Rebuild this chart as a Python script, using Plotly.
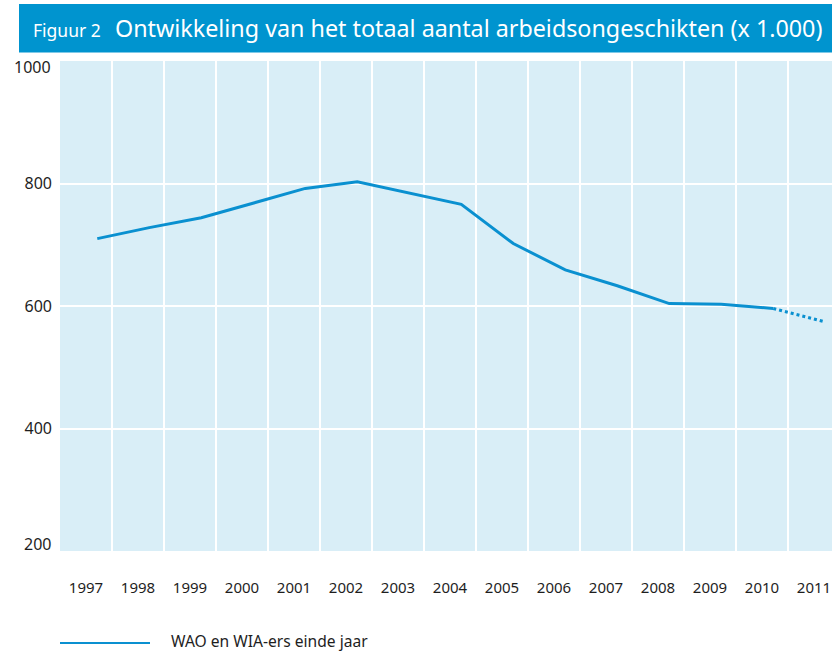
import plotly.graph_objects as go

# ---- data ----
years = [1997, 1998, 1999, 2000, 2001, 2002, 2003, 2004, 2005, 2006, 2007, 2008, 2009, 2010, 2011]
values = [710, 728, 744, 768, 792, 803, 785, 766, 702, 659, 633, 604, 603, 596, 574]
year_labels = [str(y) for y in years]
y_ticks = [200, 400, 600, 800, 1000]
series_name = "WAO en WIA-ers einde jaar"
title_prefix = "Figuur 2"
title_main = "Ontwikkeling van het totaal aantal arbeidsongeschikten (x 1.000)"

# ---- style / layout constants ----
W, H = 832, 652
L, R, T, B = 60, 0, 61, 101
PW, PH = W - L - R, H - T - B
LINE = "#0a90d0"
BAR = "#0094cf"
BG = "#d9eef7"
TXT = "#1e1e1e"
FONT = "Noto Sans"
POINT_OFFSET = 0.217   # data points sit to the right of column centres
X0, X1 = years[0] - 0.717, years[0] - 0.717 + PW / 52.0


def px(xp):
    return (xp - L) / PW


def py(yp):
    return (T + PH - yp) / PH


fig = go.Figure()
n_solid = len(years) - 1
fig.add_trace(go.Scatter(x=years[:n_solid], y=values[:n_solid], mode="lines",
                         line=dict(color=LINE, width=3), showlegend=False,
                         hoverinfo="skip"))
fig.add_trace(go.Scatter(x=years[n_solid - 1:], y=values[n_solid - 1:], mode="lines",
                         line=dict(color=LINE, width=3, dash="dot"), showlegend=False,
                         hoverinfo="skip"))

shapes = [
    dict(type="rect", xref="paper", yref="paper", x0=px(19), x1=px(W), y0=py(52.5), y1=py(4),
         fillcolor=BAR, line=dict(width=0), layer="above"),
    dict(type="line", xref="paper", yref="paper", x0=px(60), x1=px(150), y0=py(643), y1=py(643),
         line=dict(color=LINE, width=2)),
]

annotations = [
    dict(text=title_prefix, xref="paper", yref="paper", x=px(31), y=py(29.5), xanchor="left",
         yanchor="middle", showarrow=False, font=dict(family=FONT, size=17.5, color="white")),
    dict(text=title_main, xref="paper", yref="paper", x=px(113), y=py(28), xanchor="left",
         yanchor="middle", showarrow=False, font=dict(family=FONT, size=23.3, color="white")),
    dict(text=series_name, xref="paper", yref="paper", x=px(169), y=py(641), xanchor="left",
         yanchor="middle", showarrow=False, font=dict(family=FONT, size=15.6, color=TXT)),
]
# edge y labels are nudged inside the plot area
for v, shift in [(y_ticks[0], 7), (y_ticks[-1], -6)]:
    annotations.append(dict(text=str(v), xref="paper", yref="y", x=px(53), y=v, yshift=shift,
                            xanchor="right", yanchor="middle", showarrow=False,
                            font=dict(family=FONT, size=16, color=TXT)))

fig.update_layout(
    width=W, height=H,
    margin=dict(l=L, r=R, t=T, b=B),
    paper_bgcolor="white", plot_bgcolor=BG,
    font=dict(family=FONT, size=15, color=TXT),
    shapes=shapes, annotations=annotations,
    xaxis=dict(range=[X0, X1], tickvals=[y - POINT_OFFSET for y in years], ticktext=year_labels,
               showgrid=False, zeroline=False, showline=False, ticks="",
               ticklabelstandoff=26, tickfont=dict(family=FONT, size=15, color=TXT),
               minor=dict(tick0=years[0] + 0.283, dtick=1, showgrid=True,
                          gridcolor="white", gridwidth=1.5, ticks="")),
    yaxis=dict(range=[y_ticks[0], y_ticks[-1]], tickvals=y_ticks[1:-1],
               showgrid=True, gridcolor="white", gridwidth=1.5, zeroline=False,
               showline=False, ticks="", ticklabelstandoff=7,
               tickfont=dict(family=FONT, size=16, color=TXT)),
)

fig.write_html("out.html", config={"displayModeBar": False},
               post_script="document.body.style.margin='0px';document.body.style.overflow='hidden';")
